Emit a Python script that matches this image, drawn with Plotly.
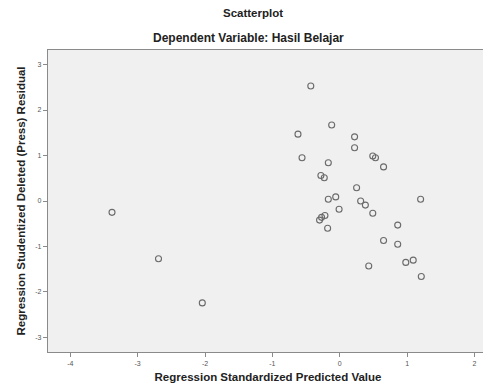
import plotly.graph_objects as go

# Regression Standardized Predicted Value
pred = [-3.38, -2.69, -2.04, -0.43, -0.12, -0.62, 0.22, 0.22, -0.56, 0.49, 0.53,
        -0.17, 0.65, -0.28, -0.23, 0.25, -0.17, -0.06, -0.01, 0.31, 0.38, 0.49,
        1.20, -0.22, -0.30, -0.27, -0.18, 0.86, 0.65, 0.86, 0.43, 0.98, 1.09, 1.21]
# Regression Studentized Deleted (Press) Residual
resid = [-0.25, -1.27, -2.24, 2.53, 1.67, 1.47, 1.41, 1.17, 0.95, 0.99, 0.95,
         0.84, 0.75, 0.56, 0.51, 0.29, 0.04, 0.09, -0.18, 0.00, -0.09, -0.27,
         0.04, -0.32, -0.42, -0.36, -0.60, -0.53, -0.87, -0.95, -1.43, -1.35, -1.30, -1.66]

x_ticks = [-4, -3, -2, -1, 0, 1, 2]
y_ticks = [-3, -2, -1, 0, 1, 2, 3]

# page body has an 8px default margin; lay out in window pixels and offset
OFF = 8
WIN_W, WIN_H = 491, 389
W, H = WIN_W - OFF, WIN_H - OFF
PL, PR, PT, PB = 48, 488, 50, 352  # plot area in window pixels
L, R, T, B = PL - OFF, WIN_W - PR, PT - OFF, WIN_H - PB


def px_to_paper(xw, yw):
    return (xw - PL) / (PR - PL), (PB - yw) / (PB - PT)


fig = go.Figure()
fig.add_trace(go.Scatter(
    x=pred, y=resid, mode="markers",
    marker=dict(symbol="circle-open", size=6, color="#6a6a6a", line=dict(width=1.1, color="#6a6a6a")),
    showlegend=False, hoverinfo="x+y"))

ax1 = px_to_paper(253, 13)
ax2 = px_to_paper(248, 38)

fig.update_layout(
    width=W, height=H,
    margin=dict(l=L, r=R, t=T, b=B),
    paper_bgcolor="white", plot_bgcolor="#f0f0f0",
    font=dict(family="Arial, Liberation Sans, sans-serif", color="#333"),
    xaxis=dict(range=[-4.33, 2.2], tickvals=x_ticks, ticktext=[str(v) for v in x_ticks],
               showgrid=False, zeroline=False, showline=True, linecolor="#8a8a8a", linewidth=1.2,
               mirror=True, ticks="outside", ticklen=4, tickcolor="#8a8a8a",
               tickfont=dict(size=7, color="#555"),
               title=dict(text="<b>Regression Standardized Predicted Value</b>",
                          font=dict(size=11.5, color="#222"), standoff=7)),
    yaxis=dict(range=[-3.32, 3.32], tickvals=y_ticks, ticktext=[str(v) for v in y_ticks],
               showgrid=False, zeroline=False, showline=True, linecolor="#8a8a8a", linewidth=1.2,
               mirror=True, ticks="outside", ticklen=4, tickcolor="#8a8a8a",
               tickfont=dict(size=7, color="#555"),
               title=dict(text="<b>Regression Studentized Deleted (Press) Residual</b>",
                          font=dict(size=11.5, color="#222"), standoff=7)),
    annotations=[
        dict(text="<b>Scatterplot</b>", x=ax1[0], y=ax1[1], xref="paper", yref="paper",
             showarrow=False, font=dict(size=11.5, color="#222"), xanchor="center", yanchor="middle"),
        dict(text="<b>Dependent Variable: Hasil Belajar</b>", x=ax2[0], y=ax2[1],
             xref="paper", yref="paper", showarrow=False, font=dict(size=12, color="#222"),
             xanchor="center", yanchor="middle"),
    ],
)

fig.write_html("out.html")
